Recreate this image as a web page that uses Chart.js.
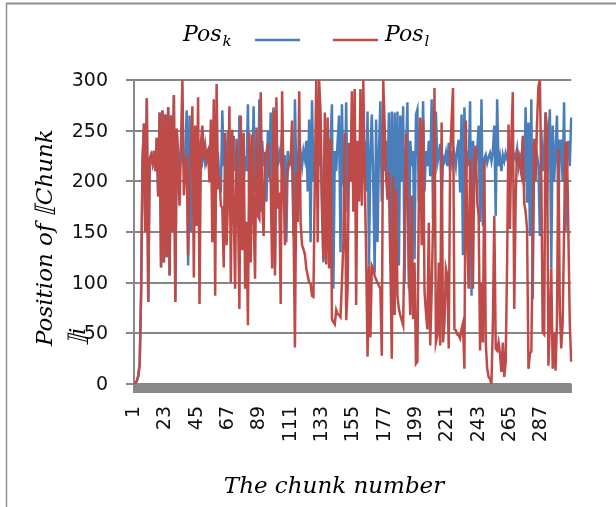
<!DOCTYPE html>
<html>
<head>
<meta charset="utf-8">
<script src="https://cdn.jsdelivr.net/npm/chart.js@4.4.1/dist/chart.umd.min.js"></script>
<style>
html,body{margin:0;padding:0;background:#fff;overflow:hidden}
canvas{background:#fff;display:block}
</style>
</head>
<body>
<canvas id="c" width="616" height="507"></canvas>
<script>
// ---- data ----
const posL = [
0,1,3,8,20,90,220,257,150,282,
81,222,226,218,230,210,243,185,268,115,
270,120,266,125,273,107,265,150,285,81,
252,205,176,240,300,186,210,225,127,196,
230,274,105,255,156,283,79,238,255,222,
235,222,232,199,261,140,281,87,296,192,
205,176,174,115,248,137,182,274,100,251,
173,94,242,179,74,265,132,248,94,160,
58,248,120,246,166,104,253,166,163,288,
180,146,228,228,238,205,199,114,271,107,
283,173,189,79,289,199,137,196,210,219,
219,260,160,36,209,160,289,160,137,133,
128,114,107,100,99,87,86,205,300,140,
300,268,184,123,268,118,263,114,242,64,
61,59,73,69,68,66,100,140,248,63,
94,238,200,289,170,291,78,240,180,291,
176,300,205,127,27,117,46,117,114,107,
103,100,97,94,28,300,255,205,182,209,
123,25,204,68,192,87,74,68,63,58,
150,248,186,114,68,186,64,120,20,22,
180,263,137,261,91,71,54,159,38,90,
159,292,41,48,120,38,258,41,60,114,
107,35,222,260,292,54,53,49,48,45,
54,60,15,260,146,94,222,180,94,222,
235,179,166,33,100,41,220,41,15,7,
5,0,60,166,35,33,41,30,12,41,
7,22,120,256,153,242,288,74,182,232,
222,215,207,245,179,170,153,15,30,32,
140,242,200,258,294,300,205,51,49,268,
253,18,60,114,15,51,13,61,232,74,
35,61,150,238,238,150,60,22
];
const posK = [
0,1,3,8,20,90,220,257,150,282,
81,222,226,218,230,210,243,185,268,115,
270,120,266,125,273,107,265,150,285,81,
252,228,210,232,222,215,226,270,117,265,
150,230,215,225,218,225,222,228,220,232,
218,225,230,215,226,222,229,219,224,226,
200,189,270,215,240,200,250,215,225,195,
245,210,230,175,265,160,240,200,225,210,
276,180,235,200,274,190,230,166,281,170,
240,215,225,180,250,205,268,150,273,117,
235,215,228,220,250,190,226,140,230,222,
218,226,146,281,200,225,220,228,215,230,
222,240,190,261,140,280,200,230,218,226,
215,240,170,120,250,200,230,180,240,276,
94,230,210,240,265,130,276,200,190,278,
170,225,215,240,200,250,180,228,215,235,
205,222,240,190,269,117,230,266,200,110,
261,140,230,279,180,225,210,240,200,268,
120,269,120,268,160,269,117,265,200,274,
100,230,278,94,240,215,230,123,266,271,
180,225,210,279,190,230,215,240,205,281,
163,222,269,218,226,237,179,224,220,228,
215,238,209,230,218,226,215,232,241,189,
266,127,273,200,230,215,279,87,240,225,
215,230,255,160,281,156,222,226,218,224,
228,220,230,255,166,281,215,224,210,226,
220,228,222,218,225,230,220,226,222,232,
215,225,220,240,200,273,179,258,146,281,
84,240,220,226,215,146,250,210,230,268,
179,240,271,114,255,200,230,265,166,240,
240,200,278,150,230,240,215,263
];
const tickLabels = ['1','23','45','67','89','111','133','155','177','199','221','243','265','287'];
const yTicks = [0, 50, 100, 150, 200, 250, 300];
const categories = posL.map((_, i) => String(i + 1));
const seriesNames = ['Pos', 'Pos'];
const seriesSubs = ['k', 'l'];
const xTitle = 'The chunk number';
const yTitleLines = ['Position of \u27E6Chunk', '\u27E7i'];

const BLUE = '#4A7EBB';
const RED = '#BE4B48';
const GRID = '#868686';

// gridlines behind the series, plus the tick-mark band under the category axis
const axisBack = {
  id: 'axisBack',
  beforeDatasetsDraw(chart) {
    const ctx = chart.ctx, ca = chart.chartArea, xs = chart.scales.x, ys = chart.scales.y;
    ctx.save();
    ctx.strokeStyle = GRID; ctx.lineWidth = 2;
    for (const v of yTicks) {
      const py = Math.round(ys.getPixelForValue(v));
      ctx.beginPath(); ctx.moveTo(ca.left - 8, py); ctx.lineTo(ca.right, py); ctx.stroke();
    }
    ctx.strokeStyle = '#888888'; ctx.lineWidth = 1.5;
    ctx.beginPath();
    for (let i = 0; i < categories.length; i++) {
      const px = xs.getPixelForValue(i);
      ctx.moveTo(px, ca.bottom); ctx.lineTo(px, ca.bottom + 9);
    }
    ctx.stroke();
    ctx.strokeStyle = '#888888'; ctx.lineWidth = 2;
    ctx.beginPath(); ctx.moveTo(ca.left, ca.top); ctx.lineTo(ca.left, ca.bottom + 9); ctx.stroke();
    ctx.restore();
  }
};

const decor = {
  id: 'decor',
  afterDraw(chart) {
    const ctx = chart.ctx, ys = chart.scales.y;
    ctx.save();
    // value tick labels
    ctx.fillStyle = '#111';
    ctx.font = '19px "DejaVu Sans"';
    ctx.textAlign = 'right';
    ctx.textBaseline = 'middle';
    for (const v of yTicks) {
      ctx.fillText(String(v), 108, ys.getPixelForValue(v) + 1);
    }
    // outer frame
    ctx.strokeStyle = '#8e8e8e';
    ctx.lineWidth = 2;
    ctx.beginPath(); ctx.moveTo(6, 3.5); ctx.lineTo(chart.width, 3.5); ctx.stroke();
    ctx.lineWidth = 1.5;
    ctx.beginPath(); ctx.moveTo(6.5, 3); ctx.lineTo(6.5, chart.height); ctx.stroke();
    // titles
    ctx.fillStyle = '#000';
    ctx.textBaseline = 'alphabetic';
    ctx.font = 'italic 23px "DejaVu Serif"';
    ctx.textAlign = 'center';
    ctx.fillText(xTitle, 334, 493);
    ctx.save();
    ctx.translate(52, 346);
    ctx.rotate(-Math.PI / 2);
    ctx.textAlign = 'left';
    ctx.fillText(yTitleLines[0], 0, 0);
    ctx.fillText(yTitleLines[1], 0, 33);
    ctx.restore();
    // legend
    const ds = chart.data.datasets;
    const mainFont = 'italic 22px "DejaVu Serif"';
    const subFont = 'italic 15px "DejaVu Serif"';
    ctx.textAlign = 'left';
    ctx.font = mainFont;
    ctx.fillText(seriesNames[0], 183, 41);
    let w = ctx.measureText(seriesNames[0]).width;
    ctx.font = subFont;
    ctx.fillText(seriesSubs[0], 183 + w + 1, 46);
    ctx.strokeStyle = ds[1].borderColor;
    ctx.lineWidth = 2.5;
    ctx.beginPath(); ctx.moveTo(255, 40); ctx.lineTo(300, 40); ctx.stroke();
    ctx.strokeStyle = ds[0].borderColor;
    ctx.beginPath(); ctx.moveTo(333, 40); ctx.lineTo(378, 40); ctx.stroke();
    ctx.font = mainFont;
    ctx.fillText(seriesNames[1], 385, 41);
    w = ctx.measureText(seriesNames[1]).width;
    ctx.font = subFont;
    ctx.fillText(seriesSubs[1], 385 + w + 1, 46);
    ctx.restore();
  }
};

const tickFont = { family: '"DejaVu Sans"', size: 19 };
new Chart(document.getElementById('c'), {
  type: 'line',
  data: {
    labels: categories,
    datasets: [
      { label: 'Pos_l', data: posL, borderColor: RED, backgroundColor: RED, borderWidth: 2.5, pointRadius: 0, tension: 0, order: 1 },
      { label: 'Pos_k', data: posK, borderColor: BLUE, backgroundColor: BLUE, borderWidth: 2.5, pointRadius: 0, tension: 0, order: 2 }
    ]
  },
  options: {
    responsive: false,
    animation: false,
    devicePixelRatio: 1,
    layout: { padding: { top: 80, right: 20, left: 0, bottom: 0 } },
    plugins: { legend: { display: false }, tooltip: { enabled: false }, title: { display: false } },
    scales: {
      x: {
        type: 'category',
        offset: false,
        grid: { display: false, drawTicks: false },
        border: { display: false },
        ticks: {
          autoSkip: false, minRotation: 90, maxRotation: 90, padding: 22,
          font: tickFont, color: '#111',
          callback: function (value) {
            const lbl = this.getLabelForValue(value);
            return tickLabels.includes(lbl) ? lbl : '';
          }
        },
        afterFit(scale) { scale.height = 123; }
      },
      y: {
        min: 0, max: 300,
        ticks: { display: false, stepSize: 50 },
        grid: { display: false, drawTicks: false },
        border: { display: false },
        afterFit(scale) { scale.width = 134; }
      }
    }
  },
  plugins: [axisBack, decor]
});
</script>
</body>
</html>
